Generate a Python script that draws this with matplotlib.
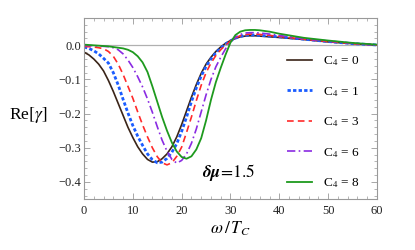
import matplotlib
matplotlib.use('Agg')
import matplotlib.pyplot as plt
from matplotlib.ticker import MultipleLocator

plt.rcParams['font.family'] = ['Liberation Serif', 'DejaVu Serif']
plt.rcParams['mathtext.fontset'] = 'stix'

# omega / T_c
w = list(range(0, 37)) + [38, 40, 45, 50, 55, 60]

# Re[gamma] for each C4
c0 = [-0.020, -0.028, -0.040, -0.055, -0.075, -0.103, -0.135, -0.170, -0.205, -0.240,
      -0.270, -0.297, -0.318, -0.334, -0.342, -0.341, -0.332, -0.318, -0.297, -0.268,
      -0.232, -0.192, -0.152, -0.115, -0.082, -0.055, -0.035, -0.018, -0.005, 0.006,
      0.014, 0.020, 0.025, 0.027, 0.028, 0.028, 0.027,
      0.025, 0.023, 0.017, 0.010, 0.005, 0.001]
c1 = [-0.005, -0.009, -0.016, -0.025, -0.038, -0.052, -0.080, -0.116, -0.158, -0.198,
      -0.235, -0.266, -0.293, -0.318, -0.335, -0.344, -0.342, -0.331, -0.313, -0.288,
      -0.252, -0.210, -0.165, -0.125, -0.090, -0.062, -0.040, -0.022, -0.008, 0.004,
      0.013, 0.021, 0.026, 0.029, 0.030, 0.030, 0.029,
      0.027, 0.025, 0.018, 0.011, 0.005, 0.001]
c3 = [-0.003, -0.004, -0.005, -0.007, -0.010, -0.018, -0.032, -0.055, -0.085, -0.120,
      -0.155, -0.195, -0.233, -0.268, -0.300, -0.326, -0.344, -0.350, -0.344, -0.325,
      -0.298, -0.255, -0.210, -0.162, -0.117, -0.080, -0.052, -0.030, -0.013, 0.001,
      0.012, 0.022, 0.028, 0.031, 0.033, 0.033, 0.032,
      0.029, 0.026, 0.018, 0.011, 0.005, 0.001]
c6 = [0.000, -0.001, -0.001, -0.002, -0.003, -0.004, -0.007, -0.013, -0.025, -0.043,
      -0.065, -0.092, -0.122, -0.157, -0.196, -0.238, -0.278, -0.310, -0.334, -0.345,
      -0.337, -0.318, -0.287, -0.245, -0.195, -0.145, -0.100, -0.063, -0.035, -0.010,
      0.010, 0.024, 0.032, 0.036, 0.037, 0.037, 0.036,
      0.033, 0.029, 0.019, 0.012, 0.006, 0.001]
c8 = [0.002, 0.001, 0.000, -0.001, -0.002, -0.003, -0.005, -0.007, -0.009, -0.013,
      -0.020, -0.032, -0.050, -0.078, -0.120, -0.165, -0.210, -0.250, -0.285, -0.311,
      -0.327, -0.332, -0.325, -0.305, -0.272, -0.220, -0.160, -0.108, -0.066, -0.027,
      0.008, 0.030, 0.040, 0.044, 0.045, 0.045, 0.044,
      0.040, 0.034, 0.022, 0.014, 0.007, 0.002]

labels = ['C$_4$ = 0', 'C$_4$ = 1', 'C$_4$ = 3', 'C$_4$ = 6', 'C$_4$ = 8']

fig = plt.figure(figsize=(4.15, 2.5), dpi=100)
ax = fig.add_axes([0.2024, 0.204, 0.706, 0.724])

ax.axhline(0, color='#b0b0b0', lw=0.9, zorder=1)

ax.plot(w, c0, color='#3a2418', lw=1.2, label=labels[0])
ax.plot(w, c1, color='#1a5cff', lw=2.0, ls=(0, (1.2, 0.8)), label=labels[1])
ax.plot(w, c3, color='#ff2a2a', lw=1.2, ls=(0, (4, 2.5)), label=labels[2])
ax.plot(w, c6, color='#8a2be2', lw=1.2, ls=(0, (5, 2, 1, 2)), label=labels[3])
ax.plot(w, c8, color='#1e9a1e', lw=1.3, label=labels[4])

ax.set_xlim(0, 60)
ax.set_ylim(-0.45, 0.08)
ax.xaxis.set_major_locator(MultipleLocator(10))
ax.xaxis.set_minor_locator(MultipleLocator(2))
ax.yaxis.set_major_locator(MultipleLocator(0.1))
ax.yaxis.set_minor_locator(MultipleLocator(0.02))
ax.yaxis.set_major_formatter(plt.FuncFormatter(
    lambda v, p: ('%.1f' % v).replace('-', '\u2212') if abs(v) > 1e-9 else '0.0'))

ax.tick_params(which='both', direction='in', top=True, right=True, color='#999999',
               labelsize=9, labelcolor='#222222')
ax.tick_params(which='major', length=4, width=0.6)
ax.tick_params(which='minor', length=2, width=0.5)
ax.tick_params(axis='y', pad=2)
ax.tick_params(axis='x', pad=4)
for s in ax.spines.values():
    s.set_color('#999999')
    s.set_linewidth(0.8)

ax.set_ylabel(r'Re$[\gamma]$', rotation=0, fontsize=12.5, ha='center', va='center')
ax.yaxis.set_label_coords(-0.191, 0.464)
ax.set_xlabel(r'$\omega\,/\,T_C$', fontsize=12.5, labelpad=2)

ax.text(24.2, -0.373, r'$\boldsymbol{\delta\mu}\!=\!1.5$', fontsize=12.5, va='center', ha='left')

ax.legend(loc='upper left', bbox_to_anchor=(0.693, 0.80), frameon=False, fontsize=9.5,
          handlelength=1.9, handletextpad=0.8, labelspacing=1.27, borderpad=0,
          borderaxespad=0)

fig.savefig('out.png', dpi=100)
